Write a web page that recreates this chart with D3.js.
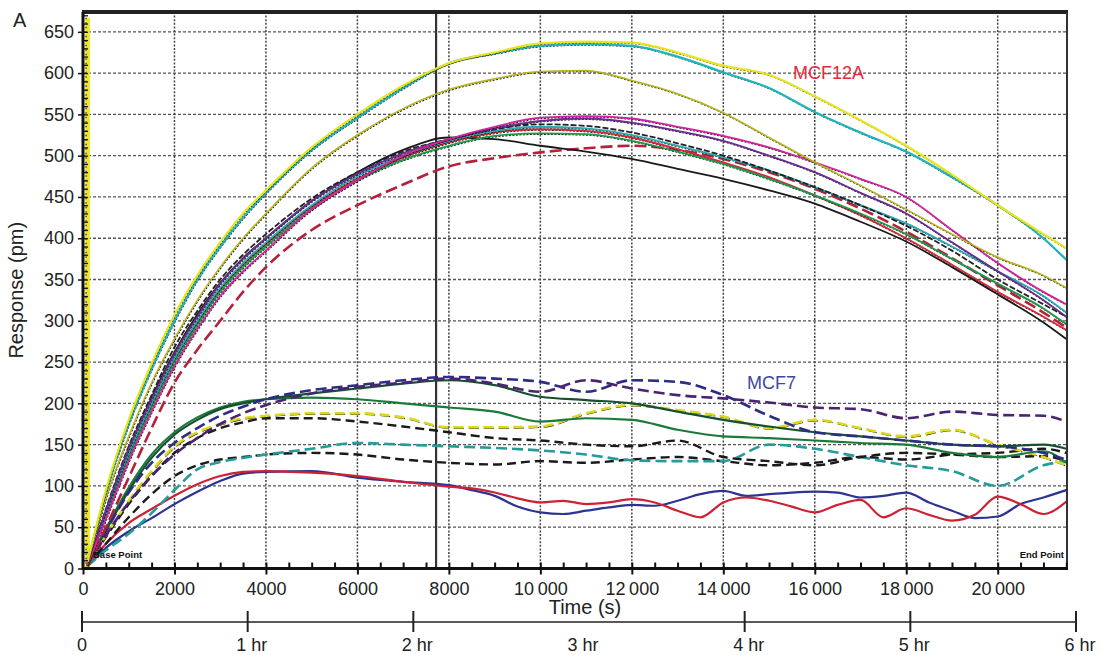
<!DOCTYPE html>
<html>
<head>
<meta charset="utf-8">
<script src="https://cdn.jsdelivr.net/npm/d3@7"></script>
<style>
  body { margin: 0; background: #fff; }
  svg { display: block; font-family: "Liberation Sans", Arial, sans-serif; }
</style>
</head>
<body>
<div id="chart"></div>
<script>
// time points (s)
const tA = [100, 500, 1000, 1500, 2000, 2500, 3000, 3500, 4000, 5000, 6000, 7000, 8000, 9000, 10000, 11000, 12000, 13000, 14000, 15000, 16000, 17000, 18000, 19000, 20000, 21000, 21500];
const tB = [100, 500, 1000, 1500, 2000, 2500, 3000, 3500, 4000, 5000, 6000, 7000, 8000, 8500, 9000, 9500, 10000, 10500, 11000, 11500, 12000, 12500, 13000, 13500, 14000, 14500, 15000, 15500, 16000, 16500, 17000, 17500, 18000, 18500, 19000, 19500, 20000, 20500, 21000, 21500];

// MCF12A responses (pm)
const yellow12A = [8, 95, 180, 248, 307, 355, 395, 430, 458, 510, 550, 585, 612, 625, 636, 638, 637, 625, 609, 598, 572, 543, 512, 477, 440, 405, 388];
const cyan12A = [8, 92, 175, 242, 300, 350, 390, 425, 455, 507, 546, 582, 612, 624, 633, 635, 633, 620, 601, 582, 553, 528, 505, 474, 440, 400, 374];
const olive12A = [6, 85, 160, 225, 278, 325, 365, 400, 430, 485, 525, 557, 580, 593, 602, 603, 591, 575, 552, 522, 492, 464, 435, 405, 377, 355, 340];
const magenta12A = [4, 60, 130, 190, 245, 290, 330, 360, 385, 435, 470, 500, 520, 535, 546, 548, 545, 535, 524, 510, 492, 472, 450, 410, 370, 335, 320];
const purple12A = [5, 70, 145, 205, 260, 305, 345, 375, 400, 445, 478, 503, 520, 533, 542, 545, 540, 530, 518, 500, 480, 455, 430, 395, 360, 325, 305];
const black12A = [5, 72, 148, 210, 268, 312, 350, 380, 405, 448, 480, 505, 520, 532, 538, 536, 528, 515, 500, 482, 462, 440, 415, 385, 350, 320, 305];
const teal12A = [5, 68, 140, 200, 255, 300, 340, 370, 395, 440, 475, 500, 518, 530, 535, 533, 525, 512, 498, 482, 462, 440, 418, 390, 360, 330, 310];
const green12A = [5, 65, 135, 195, 250, 295, 335, 365, 390, 435, 470, 495, 512, 524, 527, 526, 518, 505, 490, 472, 452, 430, 405, 375, 345, 315, 296];
const red12A = [5, 66, 138, 198, 252, 298, 338, 368, 393, 438, 472, 498, 516, 528, 532, 530, 522, 508, 492, 474, 452, 428, 400, 368, 335, 305, 289];
const blackEarly12A = [5, 70, 145, 207, 262, 308, 346, 376, 400, 445, 480, 507, 522, 520, 512, 505, 496, 484, 472, 458, 442, 420, 396, 365, 332, 298, 278];
const redDash12A = [3, 50, 110, 170, 225, 265, 300, 335, 365, 410, 440, 465, 487, 497, 504, 509, 512, 507, 496, 480, 460, 436, 408, 376, 343, 310, 292];

// MCF7 responses (pm)
const purpleDash7 = [4, 40, 80, 112, 138, 158, 175, 188, 198, 212, 220, 225, 230, 224, 214, 228, 218, 210, 206, 201, 195, 193, 182, 190, 186, 185, 178];
const navyDash7 = [4, 45, 92, 128, 152, 170, 185, 196, 205, 216, 222, 228, 232, 230, 226, 214, 228, 226, 210, 185, 165, 160, 155, 150, 148, 140, 132];
const darkGreen7 = [4, 46, 94, 134, 162, 180, 193, 200, 205, 212, 218, 224, 228, 222, 208, 204, 200, 190, 180, 172, 165, 160, 155, 150, 148, 150, 145];
const green7 = [4, 48, 98, 138, 165, 183, 195, 202, 205, 207, 205, 200, 195, 190, 178, 182, 180, 168, 160, 158, 155, 152, 150, 140, 135, 142, 128];
const yellowDash7 = [3, 40, 82, 118, 148, 165, 175, 182, 185, 188, 188, 183, 171, 171, 172, 188, 198, 192, 184, 170, 180, 170, 160, 168, 150, 135, 125];
const blackDash7 = [3, 38, 78, 112, 140, 158, 170, 177, 182, 182, 178, 172, 165, 158, 155, 150, 148, 155, 135, 130, 125, 135, 140, 138, 135, 136, 130];
const tealDash7 = [3, 22, 42, 67, 95, 120, 129, 134, 138, 145, 152, 150, 148, 146, 143, 138, 131, 130, 130, 150, 145, 135, 125, 118, 100, 125, 130];
const blackDashLow7 = [3, 30, 62, 90, 112, 125, 132, 135, 138, 140, 138, 132, 128, 126, 130, 128, 132, 135, 130, 125, 128, 135, 132, 138, 140, 145, 140];
const red7 = [3, 30, 55, 72, 88, 102, 112, 117, 118, 116, 112, 105, 99, 97, 92, 85, 80, 82, 78, 80, 84, 80, 70, 62, 80, 86, 82, 75, 68, 77, 83, 62, 73, 65, 58, 65, 87, 78, 66, 81];
const blue7 = [3, 25, 45, 61, 78, 93, 106, 115, 117, 118, 110, 105, 101, 95, 88, 75, 68, 66, 70, 74, 77, 76, 82, 90, 94, 88, 90, 92, 93, 92, 86, 88, 92, 80, 70, 61, 63, 78, 86, 95];

// axes
const yTicks = d3.range(0, 651, 50);
const xTicks = d3.range(0, 20001, 2000);
const hourTicks = [0, 1, 2, 4, 5, 6];
const hourLabels = ["0", "1 hr", "2 hr", "3 hr", "4 hr", "5 hr", "6 hr"];
const baseTime = 100;
const markTime = 7720;

const lines = [
    { t: tB, v: blue7, color: "#2d3392", w: 2.2 },
    { t: tB, v: red7, color: "#cc2236", w: 2.2 },
    { t: tA, v: blackDashLow7, color: "#1a1a1a", w: 2.4, dash: "9,5" },
    { t: tA, v: tealDash7, color: "#249c9a", w: 2.6, dash: "11,5" },
    { t: tA, v: blackDash7, color: "#1a1a1a", w: 2.4, dash: "9,5" },
    { t: tA, v: yellowDash7, color: "#dcd81e", w: 2.6, dash: "10,5", edge: true },
    { t: tA, v: green7, color: "#1b7a3a", w: 2.2 },
    { t: tA, v: darkGreen7, color: "#16502e", w: 2.2 },
    { t: tA, v: navyDash7, color: "#2e2d86", w: 2.6, dash: "11,5" },
    { t: tA, v: purpleDash7, color: "#4a2470", w: 2.6, dash: "11,5" },
    { t: tA, v: redDash12A, color: "#b5213c", w: 2.6, dash: "12,5" },
    { t: tA, v: blackEarly12A, color: "#1a1a1a", w: 1.8 },
    { t: tA, v: red12A, color: "#d12a3a", w: 1.8, edge: true },
    { t: tA, v: green12A, color: "#1c9a4a", w: 1.8, edge: true },
    { t: tA, v: teal12A, color: "#2aa8b4", w: 1.8, edge: true },
    { t: tA, v: black12A, color: "#222", w: 1.8, dash: "6,2" },
    { t: tA, v: purple12A, color: "#6a2d8f", w: 1.8, edge: true },
    { t: tA, v: magenta12A, color: "#d0259a", w: 1.8, edge: true },
    { t: tA, v: olive12A, color: "#b8b41c", w: 1.6, edge: true },
    { t: tA, v: cyan12A, color: "#1fb5bb", w: 2.2, edge: true },
    { t: tA, v: yellow12A, color: "#e8e41e", w: 2.2, edge: true }
];

const width = 1103, height = 655;
const svg = d3.select('#chart').append('svg')
    .attr('width', width)
    .attr('height', height);

const x = d3.scaleLinear().domain([0, 21515]).range([83, 1067]);
const y = d3.scaleLinear().domain([0, 674]).range([568.5, 12]);
const xh = d3.scaleLinear().domain([0, 6]).range([82, 1076]);

svg.append("defs").append("clipPath").attr("id", "plot-clip")
    .append("rect")
    .attr("x", x(0)).attr("y", y(674))
    .attr("width", x(21515) - x(0)).attr("height", y(0) - y(674));

// grid
const grid = svg.append("g");
grid.selectAll(".hg").data(yTicks.filter(d => d > 0)).join("line")
    .attr("x1", x(0)).attr("x2", x(21515))
    .attr("y1", d => y(d)).attr("y2", d => y(d))
    .attr("stroke", "#555").attr("stroke-width", 1.3)
    .attr("stroke-dasharray", "3,2");
grid.selectAll(".vg").data(xTicks.filter(d => d > 0)).join("line")
    .attr("x1", d => x(d)).attr("x2", d => x(d))
    .attr("y1", y(674)).attr("y2", y(0))
    .attr("stroke", "#444").attr("stroke-width", 1.5)
    .attr("stroke-dasharray", "2,1.6");

// vertical markers
svg.append("line")
    .attr("x1", x(markTime)).attr("x2", x(markTime))
    .attr("y1", y(674)).attr("y2", y(0))
    .attr("stroke", "#333").attr("stroke-width", 2.2);
svg.append("line")
    .attr("x1", x(baseTime)).attr("x2", x(baseTime))
    .attr("y1", y(667)).attr("y2", y(0))
    .attr("stroke", "#ece61e").attr("stroke-width", 4.5);
svg.append("line")
    .attr("x1", x(baseTime) - 1.5).attr("x2", x(baseTime) - 1.5)
    .attr("y1", y(667)).attr("y2", y(0))
    .attr("stroke", "#333").attr("stroke-width", 1.3)
    .attr("stroke-dasharray", "1.5,3");

// data lines
const plot = svg.append("g").attr("clip-path", "url(#plot-clip)");
lines.forEach(s => {
    const line = d3.line()
        .x((d, i) => x(s.t[i]))
        .y(d => y(d))
        .curve(d3.curveMonotoneX);
    if (s.edge) {
        plot.append("path")
            .datum(s.v)
            .attr("d", line)
            .attr("fill", "none")
            .attr("stroke", "#111")
            .attr("stroke-width", 1.1)
            .attr("stroke-dasharray", s.dash || "2,1.5")
            .attr("transform", "translate(0.6,1)");
    }
    plot.append("path")
        .datum(s.v)
        .attr("d", line)
        .attr("fill", "none")
        .attr("stroke", s.color)
        .attr("stroke-width", s.w)
        .attr("stroke-dasharray", s.dash || null);
});

// frame
svg.append("line").attr("x1", x(0) - 1).attr("x2", x(21515) + 1)
    .attr("y1", y(674)).attr("y2", y(674))
    .attr("stroke", "#222").attr("stroke-width", 4);
svg.append("line").attr("x1", x(21515)).attr("x2", x(21515))
    .attr("y1", y(674)).attr("y2", y(0))
    .attr("stroke", "#333").attr("stroke-width", 2);
svg.append("line").attr("x1", x(0)).attr("x2", x(0))
    .attr("y1", y(674)).attr("y2", y(0) + 1)
    .attr("stroke", "#111").attr("stroke-width", 3);
svg.append("line").attr("x1", x(0) - 1).attr("x2", x(21515) + 1)
    .attr("y1", y(0)).attr("y2", y(0))
    .attr("stroke", "#111").attr("stroke-width", 3);

// x axis
const fmt = d => d >= 10000 ? d3.format(",")(d).replace(",", "\u2009") : String(d);
const xAxis = svg.append("g")
    .attr("transform", `translate(0,${y(0)})`)
    .call(d3.axisBottom(x).tickValues(xTicks).tickSize(6).tickPadding(8).tickFormat(fmt));
xAxis.select(".domain").remove();
xAxis.selectAll("line").attr("stroke", "#111").attr("stroke-width", 2);
xAxis.selectAll("text").attr("font-size", 18).attr("fill", "#222")
    .attr("font-family", '"Liberation Sans", Arial, sans-serif');

const xMinor = svg.append("g")
    .attr("transform", `translate(0,${y(0)})`)
    .call(d3.axisTop(x).tickValues(d3.range(500, 21501, 500)).tickSize(6).tickFormat(""));
xMinor.select(".domain").remove();
xMinor.selectAll("line").attr("stroke", "#111").attr("stroke-width", 2);

// y axis
const yAxis = svg.append("g")
    .attr("transform", `translate(${x(0)},0)`)
    .call(d3.axisLeft(y).tickValues(yTicks).tickSize(5).tickPadding(4));
yAxis.select(".domain").remove();
yAxis.selectAll("line").attr("stroke", "#111").attr("stroke-width", 1.5);
yAxis.selectAll("text").attr("font-size", 18).attr("fill", "#222")
    .attr("font-family", '"Liberation Sans", Arial, sans-serif');

const yMinor = svg.append("g")
    .attr("transform", `translate(${x(0) + 1},0)`)
    .call(d3.axisRight(y).tickValues(d3.range(10, 671, 10)).tickSize(4).tickFormat(""));
yMinor.select(".domain").remove();
yMinor.selectAll("line").attr("stroke", "#111").attr("stroke-width", 1.3);

// hour axis
const hourY = 622;
svg.append("line")
    .attr("x1", xh(0)).attr("x2", xh(6))
    .attr("y1", hourY).attr("y2", hourY)
    .attr("stroke", "#222").attr("stroke-width", 1.6);
svg.selectAll(".htick").data(hourTicks).join("line")
    .attr("x1", d => xh(d)).attr("x2", d => xh(d))
    .attr("y1", hourY - 11).attr("y2", hourY + 10)
    .attr("stroke", "#222").attr("stroke-width", 2);
svg.selectAll(".hlabel").data(hourLabels).join("text")
    .attr("x", (d, i) => xh(i) + (i ? 4 : 0))
    .attr("y", 651)
    .attr("text-anchor", "middle")
    .attr("font-size", 18).attr("fill", "#222")
    .text(d => d);

// titles and labels
svg.append("text").attr("x", 585).attr("y", 614)
    .attr("text-anchor", "middle").attr("font-size", 20).attr("fill", "#222")
    .text("Time (s)");
svg.append("text")
    .attr("transform", `translate(23,${(y(0) + y(674)) / 2}) rotate(-90)`)
    .attr("text-anchor", "middle").attr("font-size", 20).attr("fill", "#222")
    .text("Response (pm)");
svg.append("text").attr("x", 13).attr("y", 27)
    .attr("font-size", 20).attr("fill", "#222").text("A");
svg.append("text").attr("x", 793).attr("y", 78.5)
    .attr("font-size", 18).attr("fill", "#e8283a").text("MCF12A");
svg.append("text").attr("x", 747).attr("y", 388.5)
    .attr("font-size", 18).attr("fill", "#3b48a0").text("MCF7");
svg.append("text").attr("x", 93).attr("y", 558)
    .attr("font-size", 9.5).attr("font-weight", "bold").attr("fill", "#111")
    .text("Base Point");
svg.append("text").attr("x", 1064).attr("y", 558)
    .attr("text-anchor", "end")
    .attr("font-size", 9.5).attr("font-weight", "bold").attr("fill", "#111")
    .text("End Point");
</script>
</body>
</html>
